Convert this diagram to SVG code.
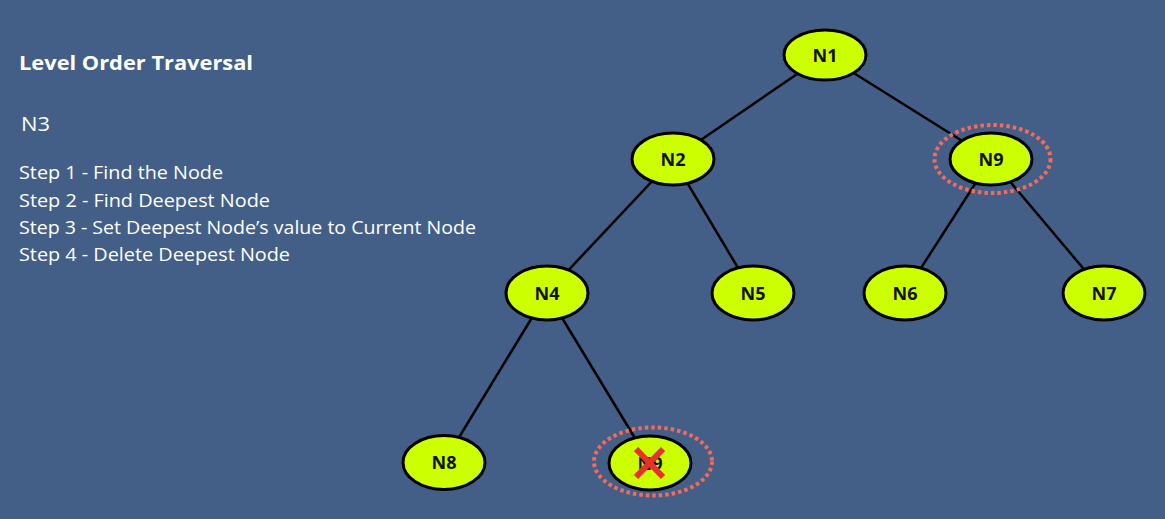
<svg xmlns="http://www.w3.org/2000/svg" width="1165" height="519" viewBox="0 0 1165 519">
<style>
.bg{fill:#435f87}
.node ellipse.shape{fill:#ccff00;stroke:#000;stroke-width:3}
.node text{font-family:"Open Sans","Noto Sans",sans-serif;font-weight:bold;font-size:18px;fill:#111;text-anchor:middle}
.edge{stroke:#000;stroke-width:2.5}
.node ellipse.hl{fill:none;stroke:#f26b5b;stroke-width:4;stroke-dasharray:3.5 3}
.title{font-family:"Open Sans","Noto Sans",sans-serif;font-weight:bold;font-size:20px;fill:#fff}
.txt{font-family:"Open Sans","Noto Sans",sans-serif;font-size:18px;fill:#fff}
.cross{stroke:#e8302c;stroke-width:6;stroke-linecap:butt}
</style>
<rect class="bg" x="0" y="0" width="1165" height="519"/>
<text class="title" x="19" y="70" textLength="234" lengthAdjust="spacingAndGlyphs">Level Order Traversal</text>
<text class="txt" x="21" y="131" style="font-size:20px" textLength="29" lengthAdjust="spacingAndGlyphs">N3</text>
<text class="txt" x="19" y="179" textLength="204" lengthAdjust="spacingAndGlyphs">Step 1 - Find the Node</text>
<text class="txt" x="19" y="206.5" textLength="251" lengthAdjust="spacingAndGlyphs">Step 2 - Find Deepest Node</text>
<text class="txt" x="19" y="234" textLength="457" lengthAdjust="spacingAndGlyphs">Step 3 - Set Deepest Node’s value to Current Node</text>
<text class="txt" x="19" y="261" textLength="271" lengthAdjust="spacingAndGlyphs">Step 4 - Delete Deepest Node</text>
<g id="connectors">
<line class="edge" x1="825" y1="55" x2="673" y2="159"/>
<line class="edge" x1="825" y1="55" x2="991" y2="159"/>
<line class="edge" x1="673" y1="159" x2="547" y2="293"/>
<line class="edge" x1="673" y1="159" x2="753" y2="293"/>
<line class="edge" x1="991" y1="159" x2="905" y2="293"/>
<line class="edge" x1="991" y1="159" x2="1104" y2="293"/>
<line class="edge" x1="547" y1="293" x2="444" y2="462"/>
<line class="edge" x1="547" y1="293" x2="650" y2="463"/>
</g>
<g id="N1" class="node"><ellipse class="shape" cx="825" cy="55" rx="41" ry="25"/><text x="825" y="61.5">N1</text></g>
<g id="N2" class="node"><ellipse class="shape" cx="673" cy="159" rx="41" ry="26"/><text x="673" y="165.5">N2</text></g>
<g id="N9" class="node"><ellipse class="shape" cx="991" cy="159" rx="41" ry="26"/><text x="991" y="165.5">N9</text><ellipse class="hl" cx="992.5" cy="159" rx="58" ry="34"/></g>
<g id="N4" class="node"><ellipse class="shape" cx="547" cy="293" rx="41" ry="27"/><text x="547" y="299.5">N4</text></g>
<g id="N5" class="node"><ellipse class="shape" cx="753" cy="293" rx="41" ry="27"/><text x="753" y="299.5">N5</text></g>
<g id="N6" class="node"><ellipse class="shape" cx="905" cy="293" rx="41" ry="27"/><text x="905" y="299.5">N6</text></g>
<g id="N7" class="node"><ellipse class="shape" cx="1104" cy="293" rx="41" ry="27"/><text x="1104" y="299.5">N7</text></g>
<g id="N8" class="node"><ellipse class="shape" cx="444" cy="462.5" rx="41" ry="27"/><text x="444" y="469">N8</text></g>
<g id="N9b" class="node"><ellipse class="shape" cx="650" cy="463" rx="41" ry="27"/><text x="650" y="469.5">N9</text><ellipse class="hl" cx="653" cy="461.5" rx="59" ry="34"/><line class="cross" x1="636" y1="449" x2="663" y2="477"/><line class="cross" x1="663" y1="449" x2="636" y2="477"/></g>
</svg>
